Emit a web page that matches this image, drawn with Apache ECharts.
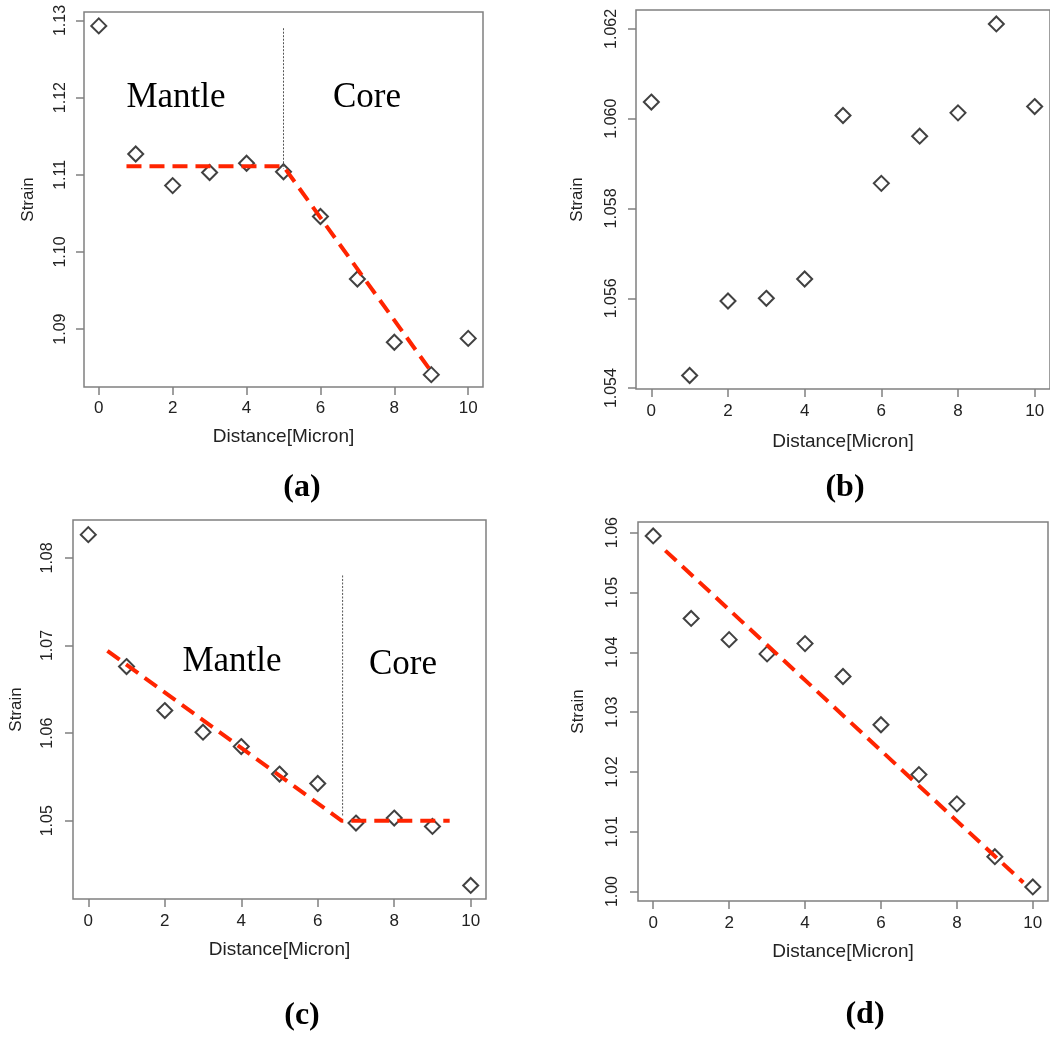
<!DOCTYPE html>
<html>
<head>
<meta charset="utf-8">
<script src="https://cdn.jsdelivr.net/npm/echarts@6/dist/echarts.min.js"></script>
<style>
  html, body { margin: 0; padding: 0; background: #ffffff; }
  #chart { width: 1050px; height: 1037px; }
</style>
</head>
<body>
<div id="chart"></div>
<script>
// ---------------- data ----------------
const distance = [0, 1, 2, 3, 4, 5, 6, 7, 8, 9, 10];
const strainA = [1.1293, 1.1127, 1.1086, 1.1103, 1.1115, 1.1104, 1.1046, 1.0965, 1.0883, 1.0841, 1.0888];
const strainB = [1.06037, 1.05428, 1.05594, 1.05600, 1.05643, 1.06007, 1.05856, 1.05961, 1.06013, 1.06211, 1.06027];
const strainC = [1.08266, 1.06760, 1.06258, 1.06011, 1.05847, 1.05533, 1.05425, 1.04974, 1.05031, 1.04935, 1.04262];
const strainD = [1.05945, 1.04566, 1.04211, 1.03973, 1.04145, 1.03595, 1.02788, 1.01955, 1.01466, 1.00583, 1.00077];

// fitted (red dashed) lines
const fitA = [[0.75, 1.1111], [5.0, 1.1111], [9.0, 1.0845]];
const fitC = [[0.5, 1.0694], [6.63, 1.0500], [9.45, 1.0500]];
const fitD = [[0.32, 1.0570], [9.75, 1.0015]];

// mantle/core boundary (dotted vertical)
const boundaryA = [[5.0, 1.1290], [5.0, 1.1108]];
const boundaryC = [[6.65, 1.0780], [6.65, 1.0505]];

// tick labels
const xTicks = [0, 2, 4, 6, 8, 10];
const yTicksA = [1.09, 1.10, 1.11, 1.12, 1.13];
const yTicksB = [1.054, 1.056, 1.058, 1.060, 1.062];
const yTicksC = [1.05, 1.06, 1.07, 1.08];
const yTicksD = [1.00, 1.01, 1.02, 1.03, 1.04, 1.05, 1.06];

// axis ranges (R style 4% padding)
const xRange = [-0.4, 10.4];
const yRangeA = [1.0825, 1.1311];
const yRangeB = [1.05398, 1.06242];
const yRangeC = [1.04107, 1.08433];
const yRangeD = [0.99842, 1.06178];

const panelLabels = ['(a)', '(b)', '(c)', '(d)'];
const regionNames = ['Mantle', 'Core'];

// ---------------- layout ----------------
const grids = [
  { left: 84, top: 12, width: 399, height: 375 },
  { left: 636, top: 10, width: 417, height: 379 },
  { left: 73, top: 520, width: 413, height: 379 },
  { left: 638, top: 522, width: 410, height: 379 }
];
const yDecimals = [2, 3, 2, 2];
const yTickSets = [yTicksA, yTicksB, yTicksC, yTicksD];
const yRanges = [yRangeA, yRangeB, yRangeC, yRangeD];
const yNameGaps = [47, 50, 48, 51];
const yLabelMargins = [15, 16, 17, 17];
const xNameGaps = [40, 43, 41, 41];
const xLabelMargins = [13, 14, 14, 14];

const frameColor = '#808080';
const textColor = '#222222';
const red = '#ff2400';

const option = {
  backgroundColor: '#ffffff',
  animation: false,
  grid: grids.map(g => Object.assign({
    show: true, borderColor: frameColor, borderWidth: 1.5, backgroundColor: 'transparent', containLabel: false
  }, g)),
  xAxis: grids.map((g, i) => ({
    type: 'value', gridIndex: i, min: xRange[0], max: xRange[1], position: 'bottom',
    name: 'Distance[Micron]', nameLocation: 'middle', nameGap: xNameGaps[i],
    nameTextStyle: { fontFamily: 'Liberation Sans, Arial, sans-serif', fontSize: 19, color: textColor },
    axisLine: { show: false, onZero: false },
    splitLine: { show: false },
    axisTick: { show: true, length: 8, customValues: xTicks, lineStyle: { color: frameColor, width: 1.5 } },
    axisLabel: { customValues: xTicks, margin: xLabelMargins[i], fontFamily: 'Liberation Sans, Arial, sans-serif', fontSize: 17, color: textColor,
      formatter: v => String(Math.round(v)) }
  })),
  yAxis: grids.map((g, i) => ({
    type: 'value', gridIndex: i, min: yRanges[i][0], max: yRanges[i][1], position: 'left',
    name: 'Strain', nameLocation: 'middle', nameGap: yNameGaps[i],
    nameTextStyle: { fontFamily: 'Liberation Sans, Arial, sans-serif', fontSize: 17, color: textColor },
    axisLine: { show: false, onZero: false },
    splitLine: { show: false },
    axisTick: { show: true, length: 8, customValues: yTickSets[i], lineStyle: { color: frameColor, width: 1.5 } },
    axisLabel: { customValues: yTickSets[i], rotate: 90, margin: yLabelMargins[i], fontFamily: 'Liberation Sans, Arial, sans-serif', fontSize: 16, color: textColor,
      formatter: v => v.toFixed(yDecimals[i]) }
  })),
  series: [],
  graphic: []
};

const strains = [strainA, strainB, strainC, strainD];
strains.forEach((s, i) => {
  option.series.push({
    type: 'scatter', xAxisIndex: i, yAxisIndex: i,
    data: distance.map((d, k) => [d, s[k]]),
    symbol: 'diamond', symbolSize: [15, 15],
    itemStyle: { color: 'rgba(0,0,0,0)', borderColor: '#111111', borderWidth: 2 },
    z: 3
  });
});

function addLine(data, idx, style) {
  option.series.push({
    type: 'line', xAxisIndex: idx, yAxisIndex: idx, data: data,
    showSymbol: false, symbol: 'none', lineStyle: style, z: 4, silent: true
  });
}
addLine(boundaryA, 0, { color: '#555555', width: 1, type: [2, 1.5] });
addLine(boundaryC, 2, { color: '#555555', width: 1, type: [2, 1.5] });
addLine(fitA, 0, { color: red, width: 4, type: [15, 8] });
addLine(fitC, 2, { color: red, width: 4, type: [15, 8] });
addLine(fitD, 3, { color: red, width: 4, type: [15, 8] });

// region annotations
const regionPos = [[176, 98], [367, 98], [232, 662], [403, 665]];
regionPos.forEach((p, i) => {
  option.graphic.push({ type: 'text', x: p[0], y: p[1],
    style: { text: regionNames[i % 2], font: '35px "Liberation Serif", serif', fill: '#000', align: 'center', verticalAlign: 'middle' } });
});
// panel labels
const panelPos = [[302, 488], [845, 488], [302, 1016], [865, 1015]];
panelLabels.forEach((t, i) => {
  option.graphic.push({ type: 'text', x: panelPos[i][0], y: panelPos[i][1],
    style: { text: t, font: 'bold 32px "Liberation Serif", serif', fill: '#000', align: 'center', verticalAlign: 'middle' } });
});

const chart = echarts.init(document.getElementById('chart'), null, { renderer: 'canvas' });
chart.setOption(option);
</script>
</body>
</html>
